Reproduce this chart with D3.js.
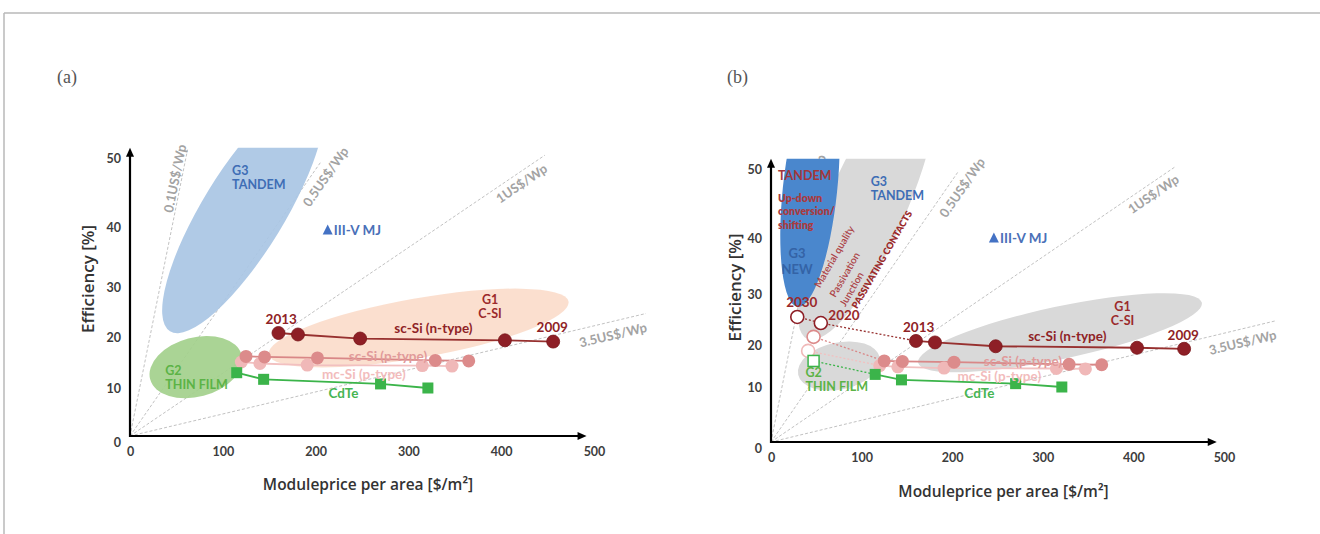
<!DOCTYPE html>
<html><head><meta charset="utf-8">
<script src="https://cdn.jsdelivr.net/npm/d3@7"></script>
<style>
body{margin:0;background:#fff;}
svg{display:block;}
text{font-family:Lato,"Open Sans",sans-serif;}
</style>
</head><body>
<svg id="c" width="1320" height="534"></svg>
<script>
// ---------------- DATA ----------------
const xTicks = [0, 100, 200, 300, 400, 500];
const yTicks = [0, 10, 20, 30, 40, 50];

// iso-cost lines from the origin: end point (price $/m2, efficiency %)
const costLines = [
  {label: "0.1US$/Wp", price: 62,  eff: 51.2},
  {label: "0.5US$/Wp", price: 206, eff: 49.5},
  {label: "1US$/Wp",   price: 447, eff: 50.4},
  {label: "3.5US$/Wp", price: 556, eff: 24.7}
];

// measured series [price $/m2, efficiency %]
const scN  = [[160, 20.8], [181, 20.5], [248, 19.7], [404, 19.35], [456, 19.1]];
const scP  = [[125, 16.2], [145, 16.1], [202, 15.9], [329, 15.4], [365, 15.3]];
const mcP  = [[120, 15.1], [140, 14.8], [191, 14.5], [315, 14.4], [347, 14.3]];
const cdte = [[115, 13.0], [144, 11.7], [270, 10.8], [321, 10.0]];

// projections (panel b)
const scNFuture  = [[29, 25.5], [55, 24.3]];   // 2030, 2020
const scPFuture  = [[47, 21.6]];
const mcPFuture  = [[41, 18.6]];
const cdteFuture = [[47, 16.2]];

const iiiv = {a: [213, 39.5], b: [246, 40.0]};

// technology regions: centre (price, eff), semi-axes in $/m2 units, tilt
const regionsA = [
  {name: "G1", cx: 311, cy: 21.8, a: 164, b: 32, angle: -10},
  {name: "G2", cx: 71,  cy: 14.1, a: 51,  b: 32, angle: -15},
  {name: "G3", cx: 122, cy: 42.2, a: 151, b: 44, angle: -58.5}
];
const regionsB = [
  {name: "G1",    cx: 319, cy: 22.4, a: 160, b: 29, angle: -12},
  {name: "G2",    cx: 75,  cy: 15.0, a: 46,  b: 26, angle: -12},
  {name: "G3",    cx: 106, cy: 44.8, a: 162, b: 43, angle: -66},
  {name: "G3new", cx: 43,  cy: 47.0, a: 130, b: 30, angle: -84}
];

const seriesLabels = [
  {text: "2013", price: 163, eff: 23.6, k: "scN"},
  {text: "2009", price: 455, eff: 22.0, k: "scN"},
  {text: "sc-Si (n-type)", price: 327, eff: 21.8, k: "scN"},
  {text: "sc-Si (p-type)", price: 278, eff: 16.3, k: "scP"},
  {text: "mc-Si (p-type)", price: 252, eff: 12.7, k: "mcP"},
  {text: "CdTe", price: 230, eff: 9.0, k: "cdte"}
];
const regionLabels = [
  {lines: ["G1", "C-SI"], price: 388, eff: 27.5, k: "g1", anchor: "middle"},
  {lines: ["G2", "THIN FILM"], price: 38, eff: 13.4, k: "g2", anchor: "start"},
  {lines: ["G3", "TANDEM"], price: 110, eff: 48.2, k: "g3", anchor: "start"}
];
const newLabels = [
  {lines: ["TANDEM"], price: 7.7, eff: 49.0, k: "tandemNew"},
  {lines: ["Up-down", "conversion/", "shifting"], price: 7.7, eff: 45.8, k: "updown"},
  {lines: ["G3", "NEW"], price: 28.7, eff: 37.3, k: "g3new"},
  {lines: ["2030"], price: 34, eff: 28.4, k: "year"},
  {lines: ["2020"], price: 80.6, eff: 25.9, k: "year"}
];
const rotatedLabels = [
  {text: "Material quality", price: 54, eff: 31.0, k: "rot"},
  {text: "Passivation", price: 71, eff: 29.2, k: "rot"},
  {text: "Junction", price: 82, eff: 27.4, k: "rot"},
  {text: "PASSIVATING CONTACTS", price: 95, eff: 27.0, k: "rotBold"}
];

// ---------------- STYLE ----------------
const C = {
  scN: "#8e1f26", scNLine: "#97302f", scNText: "#8f2326",
  scP: "#dc8b8b", scPLine: "#d98787", scPText: "#e19a9a",
  mcP: "#f0b8b8", mcPLine: "#f2c0c0", mcPText: "#f2bcbc",
  cdte: "#3bb44a", cdteText: "#46b553",
  g1: "#9b2a2b", g2: "#5bb346", g3: "#3e6db5",
  cost: "#a3a3a3", dash: "#c2c2c2"
};
const regionFill = {
  a: {G1: "#fbdccb", G2: "#a3d08c", G3: "#a9c6e4"},
  b: {G1: "#d9d9d9", G2: "#d9d9d9", G3: "#d9d9d9", G3new: "#4a87cd"}
};
const textStyle = {
  scN: {size: 13.5, color: C.scNText},
  scP: {size: 13.5, color: C.scPText},
  mcP: {size: 13.5, color: C.mcPText},
  cdte: {size: 13.5, color: C.cdteText},
  g1: {size: 12.5, color: C.g1, lh: 14},
  g2: {size: 12.5, color: C.g2, lh: 14},
  g3: {size: 12.5, color: C.g3, lh: 14},
  tandemNew: {size: 12.5, color: "#a3363a", lh: 14},
  updown: {size: 10.5, color: "#a93b3f", weight: 800, lh: 13.5},
  g3new: {size: 13, color: "#3463a6", lh: 16},
  year: {size: 13.5, color: "#9b2a2b", lh: 15},
  rot: {size: 10, color: "#ac4246", weight: 600},
  rotBold: {size: 9.3, color: "#9b2a2b", weight: 800}
};
const costLabelPos = [{t: 0.895, off: -7}, {t: 0.97, off: 12}, {t: 0.93, off: 10}, {t: 0.93, off: 13}];

const panels = [
  {id: "a", xr: [130, 594], yr: [436, 388, 337, 287, 227, 158], tag: "(a)", tagX: 57,
   regions: regionsA, yLabelX: 87, xLabelY: 484},
  {id: "b", xr: [771, 1224], yr: [442, 387, 345, 294, 238, 169], tag: "(b)", tagX: 727,
   regions: regionsB, yLabelX: 734, xLabelY: 491}
];

// ---------------- DRAW ----------------
const svg = d3.select("#c");
svg.append("line").attr("x1", 4).attr("y1", 13).attr("x2", 1320).attr("y2", 13)
  .attr("stroke", "#b8b8b8").attr("stroke-width", 1.5);
svg.append("line").attr("x1", 4).attr("y1", 13).attr("x2", 4).attr("y2", 534)
  .attr("stroke", "#b8b8b8").attr("stroke-width", 1.5);

function multiText(g, lab, x, y, anchor) {
  const st = textStyle[lab.k];
  lab.lines.forEach((l, i) => {
    g.append("text").attr("x", x).attr("y", y + i * st.lh)
      .attr("text-anchor", anchor || "start")
      .attr("font-size", st.size).attr("font-weight", st.weight || 700)
      .attr("fill", st.color).attr("dominant-baseline", "central").text(l);
  });
}

panels.forEach(p => {
  const x = d3.scaleLinear().domain([0, 500]).range(p.xr);
  const y = d3.scaleLinear().domain(yTicks).range(p.yr);
  const kx = x(1) - x(0);
  const g = svg.append("g");
  const x0 = x(0), y0 = y(0), yTop = y(51.5), xEnd = x(492);

  g.append("text").attr("x", p.tagX).attr("y", 83).text(p.tag)
    .attr("font-size", 18).attr("fill", "#555").style("font-family", "'Liberation Serif', serif");

  const clipId = "clip" + p.id;
  g.append("clipPath").attr("id", clipId).append("rect")
    .attr("x", 0).attr("y", yTop).attr("width", 1320).attr("height", 534 - yTop);

  // iso-cost lines
  costLines.forEach((c, i) => {
    const x1 = x(c.price), y1 = y(c.eff);
    g.append("line").attr("x1", x0).attr("y1", y0).attr("x2", x1).attr("y2", y1)
      .attr("stroke", C.dash).attr("stroke-width", 1).attr("stroke-dasharray", "3,2");
    const th = Math.atan2(y1 - y0, x1 - x0);
    const pos = costLabelPos[i];
    const cx = x0 + pos.t * (x1 - x0) - pos.off * Math.sin(th);
    const cy = y0 + pos.t * (y1 - y0) + pos.off * Math.cos(th);
    g.append("text").attr("transform", `translate(${cx},${cy}) rotate(${th * 180 / Math.PI})`)
      .attr("text-anchor", "middle").attr("dominant-baseline", "central")
      .attr("font-size", 13).attr("font-weight", 700).attr("fill", C.cost).text(c.label);
  });

  // regions
  const rg = g.append("g").attr("clip-path", `url(#${clipId})`);
  p.regions.forEach(r => {
    rg.append("ellipse")
      .attr("transform", `translate(${x(r.cx)},${y(r.cy)}) rotate(${r.angle})`)
      .attr("rx", r.a * kx).attr("ry", r.b * kx)
      .attr("fill", regionFill[p.id][r.name])
      .attr("opacity", p.id === "a" ? 0.92 : 1);
  });

  // axes
  const ya = g.append("g").attr("transform", `translate(${x0},0)`)
    .call(d3.axisLeft(y).tickValues(yTicks).tickSize(0).tickPadding(9).tickFormat(d3.format("d")));
  const xa = g.append("g").attr("transform", `translate(0,${y0})`)
    .call(d3.axisBottom(x).tickValues(xTicks).tickSize(0).tickPadding(11).tickFormat(d3.format("d")));
  [ya, xa].forEach(a => {
    a.select(".domain").remove();
    a.selectAll("text").attr("font-size", 12.5).attr("font-weight", 700).attr("fill", "#3d3d3d")
      .style("font-family", "Lato, sans-serif");
  });
  ya.selectAll(".tick").filter(d => d === 0).select("text").attr("dy", "0.85em");
  g.append("line").attr("x1", x0).attr("y1", y0 + 1).attr("x2", x0).attr("y2", yTop + 6)
    .attr("stroke", "#000").attr("stroke-width", 2.2);
  g.append("path").attr("d", `M${x0},${yTop} L${x0 - 4},${yTop + 9} L${x0 + 4},${yTop + 9} Z`).attr("fill", "#000");
  g.append("line").attr("x1", x0 - 1).attr("y1", y0).attr("x2", xEnd - 6).attr("y2", y0)
    .attr("stroke", "#000").attr("stroke-width", 2.2);
  g.append("path").attr("d", `M${xEnd},${y0} L${xEnd - 9},${y0 - 4} L${xEnd - 9},${y0 + 4} Z`).attr("fill", "#000");

  g.append("text").attr("transform", `translate(${p.yLabelX},${(y(0) + y(50)) / 2 - 18}) rotate(-90)`)
    .attr("text-anchor", "middle").attr("dominant-baseline", "central")
    .attr("font-size", 17).attr("font-weight", 600).attr("fill", "#333")
    .style("font-family", "'Open Sans', sans-serif").text("Efficiency [%]");
  g.append("text").attr("x", (x(0) + x(500)) / 2 + 6).attr("y", p.xLabelY)
    .attr("text-anchor", "middle").attr("dominant-baseline", "central")
    .attr("font-size", 15.5).attr("font-weight", 600).attr("fill", "#333")
    .style("font-family", "'Open Sans', sans-serif").text("Moduleprice per area [$/m²]");

  const line = d3.line().x(d => x(d[0])).y(d => y(d[1]));

  // projections (panel b)
  if (p.id === "b") {
    const dotted = (pts, col) => g.append("path").attr("d", line(pts)).attr("fill", "none")
      .attr("stroke", col).attr("stroke-width", 1.3).attr("stroke-dasharray", "2,2");
    dotted(scNFuture.concat([scN[0]]), C.scNLine);
    dotted(scPFuture.concat([scP[0]]), C.scPLine);
    dotted(mcPFuture.concat([mcP[0]]), C.mcPLine);
    dotted(cdteFuture.concat([cdte[0]]), C.cdte);
  }

  // series lines
  [[mcP, C.mcPLine], [scP, C.scPLine], [cdte, C.cdte], [scN, C.scNLine]].forEach(([d, col]) => {
    g.append("path").attr("d", line(d)).attr("fill", "none").attr("stroke", col).attr("stroke-width", 1.8);
  });
  // markers
  g.selectAll(null).data(mcP).join("circle").attr("cx", d => x(d[0])).attr("cy", d => y(d[1]))
    .attr("r", 6.5).attr("fill", C.mcP);
  g.selectAll(null).data(scP).join("circle").attr("cx", d => x(d[0])).attr("cy", d => y(d[1]))
    .attr("r", 6.5).attr("fill", C.scP);
  g.selectAll(null).data(cdte).join("rect").attr("x", d => x(d[0]) - 5.5).attr("y", d => y(d[1]) - 5.5)
    .attr("width", 11).attr("height", 11).attr("fill", C.cdte);
  g.selectAll(null).data(scN).join("circle").attr("cx", d => x(d[0])).attr("cy", d => y(d[1]))
    .attr("r", 6.5).attr("fill", C.scN).attr("stroke", "#7a1519").attr("stroke-width", 0.8);

  if (p.id === "b") {
    const open = (pts, col) => g.selectAll(null).data(pts).join("circle")
      .attr("cx", d => x(d[0])).attr("cy", d => y(d[1])).attr("r", 6.5)
      .attr("fill", "#fff").attr("stroke", col).attr("stroke-width", 1.6);
    open(scNFuture, C.scN);
    open(scPFuture, C.scP);
    open(mcPFuture, C.mcP);
    g.selectAll(null).data(cdteFuture).join("rect").attr("x", d => x(d[0]) - 5.5).attr("y", d => y(d[1]) - 5.5)
      .attr("width", 11).attr("height", 11).attr("fill", "#fff").attr("stroke", C.cdte).attr("stroke-width", 1.5);
  }

  // III-V MJ marker
  const iv = iiiv[p.id];
  const tx = x(iv[0]), ty = y(iv[1]);
  g.append("path").attr("d", `M${tx},${ty - 5.5} L${tx - 5},${ty + 4.5} L${tx + 5},${ty + 4.5} Z`).attr("fill", "#4472c4");
  g.append("text").attr("x", tx + 6).attr("y", ty).attr("dominant-baseline", "central")
    .attr("font-size", 13.5).attr("font-weight", 700).attr("fill", "#4a70b8").text("III-V MJ");

  // labels
  seriesLabels.forEach(s => {
    const st = textStyle[s.k];
    g.append("text").attr("x", x(s.price)).attr("y", y(s.eff)).attr("text-anchor", "middle")
      .attr("dominant-baseline", "central").attr("font-size", st.size).attr("font-weight", 700)
      .attr("fill", st.color).text(s.text);
  });
  regionLabels.forEach(r => multiText(g, r, x(r.price), y(r.eff), r.anchor));

  if (p.id === "b") {
    newLabels.forEach(r => {
      const anchor = (r.k === "g3new" || r.k === "year") ? "middle" : "start";
      multiText(g, r, x(r.price), y(r.eff), anchor);
    });
    rotatedLabels.forEach(r => {
      const st = textStyle[r.k];
      g.append("text").attr("transform", `translate(${x(r.price)},${y(r.eff)}) rotate(-60)`)
        .attr("font-size", st.size).attr("font-weight", st.weight).attr("fill", st.color).text(r.text);
    });
  }
});
</script>
</body></html>
